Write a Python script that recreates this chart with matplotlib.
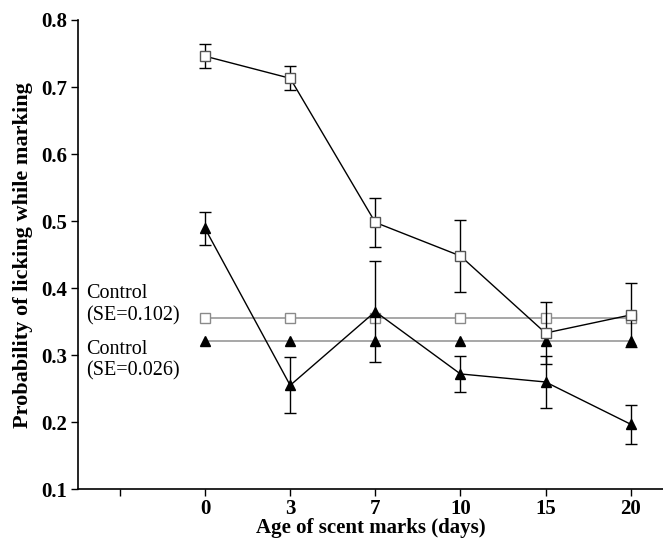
import matplotlib
matplotlib.use("Agg")
import matplotlib.pyplot as plt

# Age of scent marks (days), plotted as evenly spaced categories
ages = ["0", "3", "7", "10", "15", "20"]

# Probability of licking while marking, two groups with standard errors
squares_mean = [0.746, 0.713, 0.498, 0.448, 0.333, 0.360]
squares_se = [0.018, 0.018, 0.036, 0.054, 0.046, 0.048]
triangles_mean = [0.489, 0.255, 0.365, 0.272, 0.260, 0.197]
triangles_se = [0.025, 0.042, 0.075, 0.027, 0.039, 0.029]

# Control levels
control_squares = 0.355
control_triangles = 0.321

plt.rcParams["font.family"] = ["Liberation Serif", "DejaVu Serif"]

fig = plt.figure(figsize=(6.63, 5.4), dpi=100)
ax = fig.add_axes([0.118, 0.094, 0.882, 0.869])

pos = list(range(len(ages)))

# control lines with markers
ax.plot(pos, [control_squares] * len(pos), color="#a0a0a0", lw=1.3,
        marker="s", ms=7, mfc="white", mec="#8a8a8a", mew=1.0, zorder=2)
ax.plot(pos, [control_triangles] * len(pos), color="#a0a0a0", lw=1.3,
        marker="^", ms=7, mfc="black", mec="black", zorder=2)

# treatment lines with error bars
ax.errorbar(pos, squares_mean, yerr=squares_se, color="black", lw=1.0,
            elinewidth=1.0, capsize=4, capthick=1.0,
            marker="s", ms=7, mfc="white", mec="#555555", mew=1.0, zorder=3)
ax.errorbar(pos, triangles_mean, yerr=triangles_se, color="black", lw=1.0,
            elinewidth=1.0, capsize=4, capthick=1.0,
            marker="^", ms=7, mfc="black", mec="black", zorder=3)

ax.text(-1.4, 0.392, "Control", fontsize=14.5, va="center", ha="left")
ax.text(-1.4, 0.359, "(SE=0.102)", fontsize=14.5, va="center", ha="left")
ax.text(-1.4, 0.309, "Control", fontsize=14.5, va="center", ha="left")
ax.text(-1.4, 0.277, "(SE=0.026)", fontsize=14.5, va="center", ha="left")

ax.set_xlim(-1.49, 5.38)
ax.set_ylim(0.1, 0.8)
ax.set_xticks([-1] + pos)
ax.set_xticklabels([""] + ages)
ax.set_yticks([0.1, 0.2, 0.3, 0.4, 0.5, 0.6, 0.7, 0.8])
ax.set_yticklabels(["0.1", "0.2", "0.3", "0.4", "0.5", "0.6", "0.7", "0.8"])

for lab in ax.get_xticklabels() + ax.get_yticklabels():
    lab.set_fontweight("bold")
    lab.set_fontsize(15)

ax.tick_params(direction="out", length=5, width=1.0, pad=3)
ax.tick_params(axis="x", pad=2)
ax.spines["top"].set_visible(False)
ax.spines["right"].set_visible(False)
ax.spines["left"].set_linewidth(1.2)
ax.spines["bottom"].set_linewidth(1.2)

ax.set_xlabel("Age of scent marks (days)", fontsize=15, fontweight="bold", labelpad=-1)
ax.set_ylabel("Probability of licking while marking", fontsize=16, fontweight="bold", labelpad=6)

fig.savefig("out.png", dpi=100)
